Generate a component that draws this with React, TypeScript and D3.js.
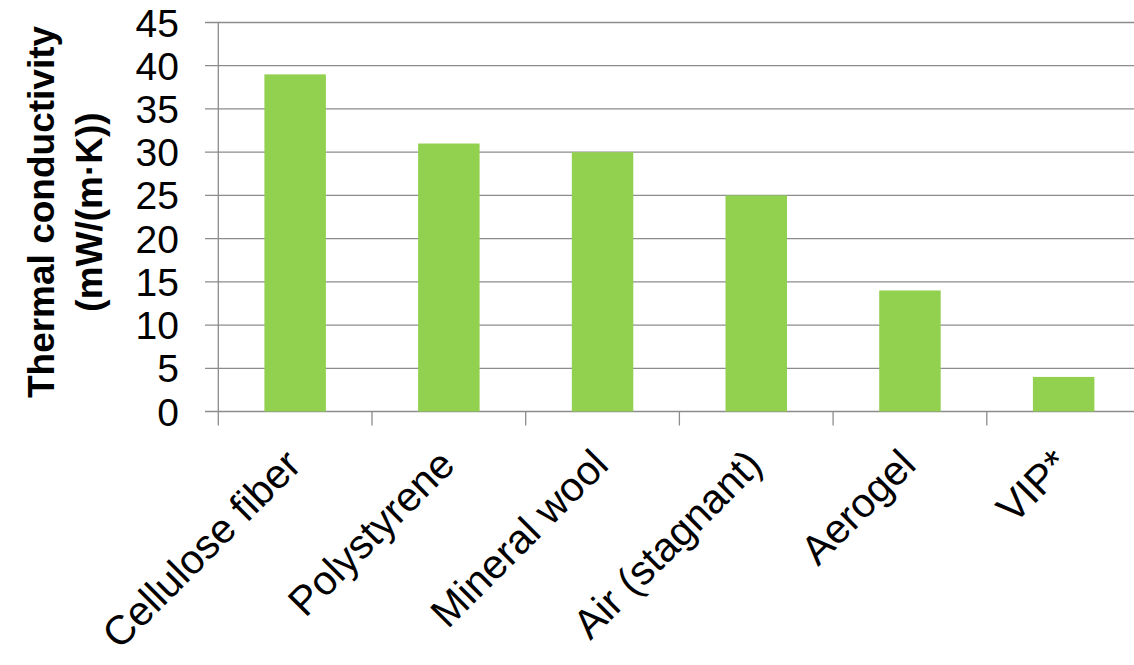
import React from "react";
import * as d3 from "d3";

const categories = ["Cellulose fiber", "Polystyrene", "Mineral wool", "Air (stagnant)", "Aerogel", "VIP*"];
const values = [39, 31, 30, 25, 14, 4];
const yTicks = [0, 5, 10, 15, 20, 25, 30, 35, 40, 45];
const yTitleLines = ["Thermal conductivity", "(mW/(m·K))"];

const W = 1134;
const H = 665;
const left = 218.3;
const right = 1140.5;
const top = 22.5;
const bottom = 411.5;

export default function App() {
  const x = d3.scaleBand<string>().domain(categories).range([left, right]).paddingInner(0).paddingOuter(0);
  const y = d3.scaleLinear().domain([0, 45]).range([bottom, top]);
  const bw = x.bandwidth() * 0.4;
  const grid = "#8c8c8c";
  const font = "'Liberation Sans', Arial, sans-serif";
  return (
    <svg width={W} height={H} style={{ position: "absolute", left: 0, top: 0, background: "#fff" }}>
      <rect x={0} y={0} width={W} height={H} fill="#fff" />
      {yTicks.map((t) => (
        <line key={"g" + t} x1={205} x2={W + 10} y1={y(t)} y2={y(t)} stroke={grid} strokeWidth={1.3} />
      ))}
      <line x1={left} x2={left} y1={top} y2={bottom + 14} stroke={grid} strokeWidth={1.3} />
      {categories.map((c, i) => (
        <line key={"t" + i} x1={x(c)! + x.bandwidth()} x2={x(c)! + x.bandwidth()} y1={bottom} y2={bottom + 14} stroke={grid} strokeWidth={1.3} />
      ))}
      {categories.map((c, i) => (
        <rect
          key={"b" + i}
          x={x(c)! + x.bandwidth() / 2 - bw / 2}
          y={y(values[i])}
          width={bw}
          height={y(0) - y(values[i])}
          fill="#92d050"
        />
      ))}
      {yTicks.map((t) => (
        <text key={"yl" + t} x={179} y={y(t)} dy="0.36em" textAnchor="end" fontFamily={font} fontSize={39} fill="#000">
          {t}
        </text>
      ))}
      {categories.map((c, i) => {
        const cx = x(c)! + x.bandwidth() / 2 + 8;
        const cy = 467;
        return (
          <text
            key={"xl" + i}
            x={cx}
            y={cy}
            transform={`rotate(-45 ${cx} ${cy})`}
            textAnchor="end"
            fontFamily={font}
            fontSize={41}
            fill="#000"
          >
            {c}
          </text>
        );
      })}
      {yTitleLines.map((s, i) => {
        const tx = i === 0 ? 54 : 102;
        const ty = 212;
        return (
          <text
            key={"yt" + i}
            x={tx}
            y={ty}
            transform={`rotate(-90 ${tx} ${ty})`}
            textAnchor="middle"
            fontFamily={font}
            fontWeight="bold"
            fontSize={37}
            fill="#000"
          >
            {s}
          </text>
        );
      })}
    </svg>
  );
}
